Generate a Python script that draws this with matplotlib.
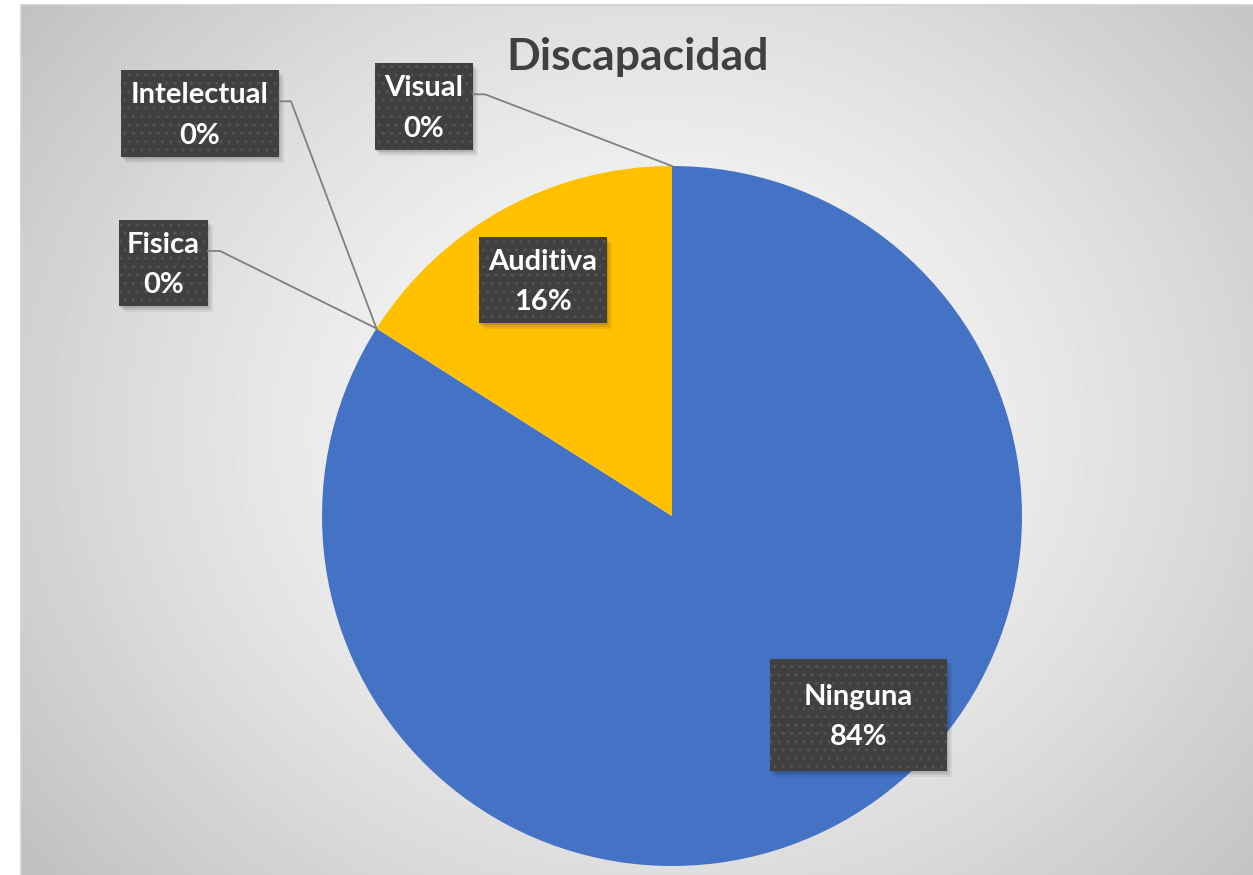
import numpy as np
import matplotlib.pyplot as plt
from matplotlib.patches import Rectangle

plt.rcParams['font.family'] = ['Lato', 'DejaVu Sans']

# share of people by type of disability (clockwise from 12 o'clock)
categorias = ['Ninguna', 'Fisica', 'Intelectual', 'Auditiva', 'Visual']
porcentajes = [84, 0, 0, 16, 0]
colores = ['#4472C4', '#A5A5A5', '#ED7D31', '#FFC000', '#5B9BD5']

W, H = 1253, 875
fig = plt.figure(figsize=(W / 100, H / 100), dpi=100)
fig.patch.set_facecolor('white')


def fx(x, y):
    return (x / W, 1 - y / H)


# chart area with radial grey gradient
left, top = 21, 5
bg = fig.add_axes([left / W, 0, 1 - left / W, 1 - top / H])
yy, xx = np.mgrid[top:H, left:W]
d = np.hypot((xx - 660) / 1.15, (yy - 430))
t = np.clip(d / d.max(), 0, 1)
gris = 253 - 62 * t ** 1.4
bg.imshow(gris, cmap='gray', vmin=0, vmax=255, aspect='auto',
          extent=(0, 1, 0, 1), interpolation='bilinear')
bg.set_axis_off()
fig.add_artist(plt.Line2D([left / W, left / W], [0, 1 - top / H],
                          color='#d0d0d0', lw=1.2, transform=fig.transFigure))
fig.add_artist(plt.Line2D([left / W, 1], [1 - top / H, 1 - top / H],
                          color='#d0d0d0', lw=1.2, transform=fig.transFigure))

# pie
cx, cy, r = 672, 516, 350
ax = fig.add_axes([(cx - r) / W, (H - cy - r) / H, 2 * r / W, 2 * r / H])
ax.pie(porcentajes, colors=colores, startangle=90, counterclock=False,
       radius=1, wedgeprops=dict(linewidth=0))
ax.set_xlim(-1, 1)
ax.set_ylim(-1, 1)
ax.set_axis_off()

fig.text(*fx(638, 57), 'Discapacidad', ha='center', va='center',
         fontsize=32, fontweight='bold', color='#404040')

# label boxes: (x0, y0, x1, y1) in pixels
cajas = {
    'Ninguna': (770, 659, 947, 771),
    'Fisica': (119, 220, 208, 306),
    'Intelectual': (121, 70, 279, 157),
    'Auditiva': (479, 237, 607, 323),
    'Visual': (375, 63, 473, 150),
}
lider = {'Fisica', 'Intelectual', 'Visual'}

acum = np.cumsum([0] + porcentajes)
for i, nombre in enumerate(categorias):
    x0, y0, x1, y1 = cajas[nombre]
    # soft drop shadow
    for k, a in enumerate([0.10, 0.08, 0.06]):
        s = 2 + k * 2
        fig.add_artist(Rectangle(fx(x0 + s - 1, y1 + s), (x1 - x0) / W, (y1 - y0) / H,
                                 transform=fig.transFigure, facecolor='black',
                                 alpha=a, lw=0))
    fig.add_artist(Rectangle(fx(x0, y1), (x1 - x0) / W, (y1 - y0) / H,
                             transform=fig.transFigure, facecolor='#404040',
                             edgecolor='#545454', hatch='..', lw=0))
    fig.text(*fx((x0 + x1) / 2, (y0 + y1) / 2 + 2),
             f'{nombre}\n{porcentajes[i]}%', ha='center', va='center',
             fontsize=21, fontweight='bold', color='white', linespacing=1.68)
    if nombre in lider:
        mid = (acum[i] + acum[i + 1]) / 2
        ang = np.deg2rad(90 - mid / 100 * 360)
        px, py = cx + r * np.cos(ang), cy - r * np.sin(ang)
        ym = y0 + (y1 - y0) * 0.36
        xs = [x1, x1 + 12, px]
        ys = [ym, ym, py]
        fig.add_artist(plt.Line2D([x / W for x in xs], [1 - y / H for y in ys],
                                  color='#7f7f7f', lw=1.3,
                                  transform=fig.transFigure))

fig.savefig('out.png', dpi=100)
